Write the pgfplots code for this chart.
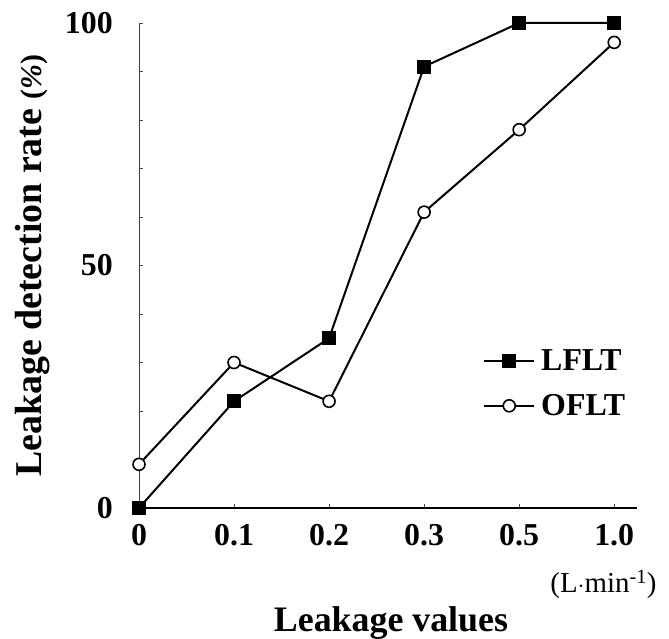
\documentclass[border=0pt]{standalone}
\usepackage{pgfplots}
\pgfplotsset{compat=1.18}
\usepackage{fontspec}
\setmainfont{Liberation Serif}

\begin{document}
\begin{tikzpicture}
\begin{axis}[
  name=ax,
  width=498bp, height=485bp, scale only axis,
  xmin=0, xmax=5.24, ymin=0, ymax=100,
  axis x line*=bottom, axis y line*=left,
  x axis line style={line width=1.6bp, -},
  y axis line style={line width=0.8bp, black!75, -},
  xtick={0,...,5}, xticklabels={0,0.1,0.2,0.3,0.5,1.0},
  ytick={0,50,100}, minor ytick={10,20,...,90},
  tick align=inside, major tick length=4bp, minor tick length=4bp,
  tick style={black!70, line width=0.6bp},
  ticklabel style={font=\fontsize{32}{32}\selectfont\bfseries},
  xticklabel style={anchor=north, inner sep=0pt, yshift=-16bp},
  yticklabel style={anchor=east, inner sep=0pt, xshift=-26bp},
  /pgf/number format/assume math mode=true,
  xlabel={Leakage values},
  ylabel={Leakage detection rate {\fontsize{30}{30}\selectfont(\textit{\%})}},
  label style={font=\fontsize{38}{38}\selectfont\bfseries},
  xlabel style={font=\fontsize{36}{36}\selectfont\bfseries,
    at={(axis description cs:0.506,0)}, anchor=base, yshift=-123bp},
  ylabel style={at={(axis description cs:-0.1948,0.5)}, anchor=base},
  legend style={at={(axis cs:3.62,32.8)}, anchor=north west, draw=none, fill=none,
    inner sep=0pt, row sep=20bp, column sep=5bp,
    font=\fontsize{32}{32}\selectfont\bfseries, nodes={inner sep=1bp}},
  legend cell align=left,
  legend image code/.code={\draw[mark repeat=2, mark phase=2, #1]
    plot coordinates {(0bp,0bp) (25bp,0bp) (50bp,0bp)};},
  clip=false,
]
\addplot[black, line width=2bp, mark=square*, mark size=6bp] coordinates {
  (0,0) (1,22) (2,35) (3,91) (4,100) (5,100)
};
\addplot[black, line width=2bp, mark=*, mark size=6bp, mark options={fill=white, line width=1.6bp}] coordinates {
  (0,9) (1,30) (2,22) (3,61) (4,78) (5,96)
};
\legend{LFLT, OFLT}
\node[anchor=base east, font=\fontsize{29}{29}\selectfont] at (rel axis cs:1,0)
  [xshift=23bp, yshift=-84bp] {(L$\cdot$min\textsuperscript{-1})};
\end{axis}
\pgfresetboundingbox
\path[use as bounding box] ([xshift=-139bp,yshift=-131bp]ax.south west)
  rectangle ([xshift=32bp,yshift=23bp]ax.north east);
\end{tikzpicture}
\end{document}
